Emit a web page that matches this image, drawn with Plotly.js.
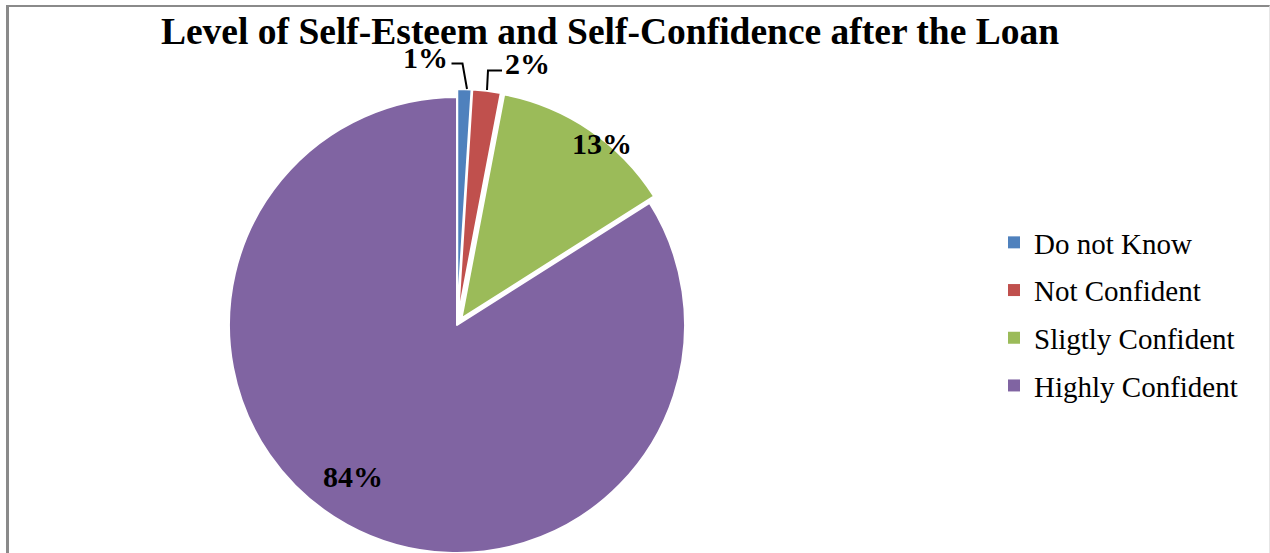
<!DOCTYPE html>
<html>
<head>
<meta charset="utf-8">
<script src="https://cdn.plot.ly/plotly-3.0.1.min.js"></script>
<style>
  html, body { margin: 0; padding: 0; background: #fff; overflow: hidden; }
  #wrap { position: relative; width: 1270px; height: 553px; overflow: hidden; }
  #chart { position: absolute; left: 0; top: 0; width: 1270px; height: 570px; }
  #frame { position: absolute; left: 6px; top: 5px; width: 1260px; height: 600px;
           border-left: 3px solid #8a8a8a; border-top: 2px solid #8a8a8a;
           border-right: 1px solid #e6e6e6; pointer-events: none; }
</style>
</head>
<body>
<div id="wrap">
  <div id="chart"></div>
  <div id="frame"></div>
</div>
<script>
// ---- data ----
const categories = ["Do not Know", "Not Confident", "Sligtly Confident", "Highly Confident"];
const values = [1, 2, 13, 84];
const labelsText = ["1%", "2%", "13%", "84%"];
const colors = ["#4F81BD", "#C0504D", "#9BBB59", "#8064A2"];

// ---- styles / positions ----
const pulls = [0.035, 0.035, 0.035, 0];
const W = 1270, H = 570;
const cx = 457, cy = 325, half = 236;
const px = x => x / W;
const py = y => 1 - y / H;
const serif = "Liberation Serif, Times New Roman, serif";
const labelPos = [[425, 58], [527, 63], [602, 143], [353, 476]];
const leaders = [
  [[451.5, 63.5], [462.5, 63.5], [467, 89]],
  [[502, 70.5], [488, 70.5], [487, 90]]
];

const pie = {
  type: "pie",
  labels: categories,
  values: values,
  textinfo: "none",
  marker: { colors: colors, line: { color: "#ffffff", width: 2 } },
  pull: pulls,
  sort: false,
  direction: "clockwise",
  rotation: 0,
  showlegend: false,
  hoverinfo: "label+percent",
  domain: { x: [px(cx - half), px(cx + half)], y: [py(cy + half), py(cy - half)] }
};

const legendTraces = categories.map((c, i) => ({
  type: "scatter", mode: "markers",
  x: [null], y: [null],
  name: c,
  legendgroup: "g" + i,
  marker: { symbol: "square", size: 12, color: colors[i], line: { width: 0 } },
  showlegend: true, hoverinfo: "skip"
}));

const annotations = labelsText.map((t, i) => ({
  text: "<b>" + t + "</b>",
  xref: "paper", yref: "paper",
  x: px(labelPos[i][0]), y: py(labelPos[i][1]),
  xanchor: "center", yanchor: "middle",
  showarrow: false,
  font: { family: serif, size: 30, color: "#000" }
}));

const shapes = leaders.map(pts => ({
  type: "path", xref: "paper", yref: "paper",
  path: pts.map((p, k) => (k ? "L" : "M") + px(p[0]) + "," + py(p[1])).join(" "),
  line: { color: "#000", width: 2 }
}));

const layout = {
  width: W, height: H,
  margin: { l: 0, r: 0, t: 0, b: 0 },
  paper_bgcolor: "#ffffff",
  plot_bgcolor: "rgba(0,0,0,0)",
  xaxis: { visible: false, range: [0, 1], fixedrange: true },
  yaxis: { visible: false, range: [0, 1], fixedrange: true },
  title: {
    text: "<b>Level of Self-Esteem and Self-Confidence after the Loan</b>",
    font: { family: serif, size: 37.5, color: "#000" },
    x: px(610), xanchor: "center", xref: "paper",
    y: py(31), yanchor: "middle", yref: "paper"
  },
  showlegend: true,
  legend: {
    x: px(994), xanchor: "left",
    y: py(314), yanchor: "middle",
    font: { family: serif, size: 29, color: "#000" },
    bgcolor: "rgba(0,0,0,0)",
    traceorder: "grouped",
    tracegroupgap: 7
  },
  annotations: annotations,
  shapes: shapes
};

Plotly.newPlot("chart", [pie].concat(legendTraces), layout, { displayModeBar: false, staticPlot: true });
</script>
</body>
</html>
